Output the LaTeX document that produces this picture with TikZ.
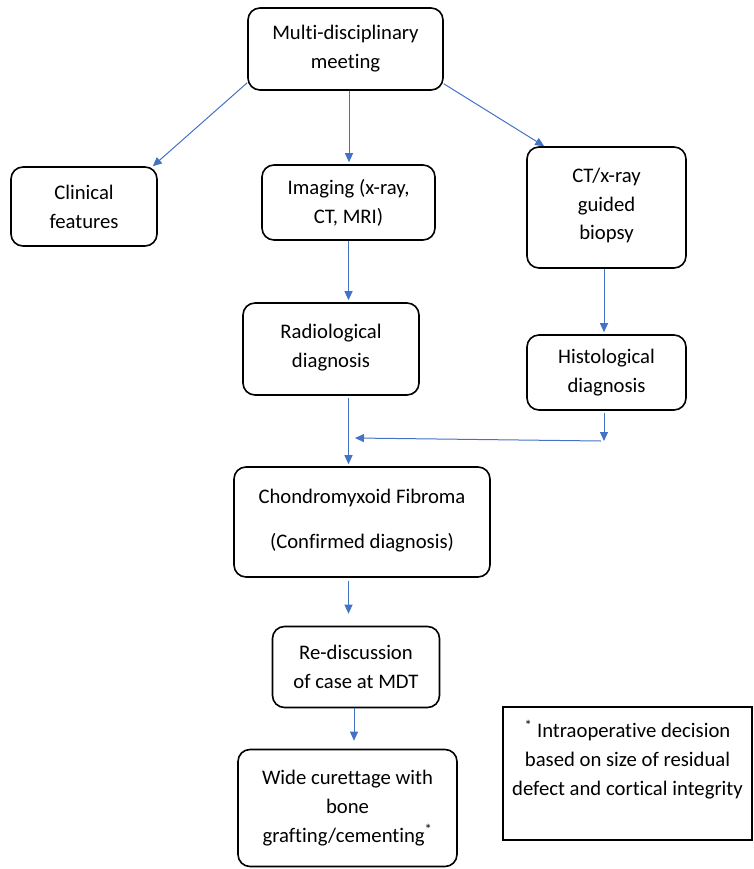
\documentclass[tikz,border=0pt]{standalone}
\usepackage{fontspec}
\setmainfont[Ligatures=NoCommon]{Carlito}
\usetikzlibrary{arrows.meta,calc}
\definecolor{arrblue}{HTML}{4472C4}
\tikzset{
  box/.style={draw=black, line width=1.6pt, rounded corners=12pt, align=center, inner sep=2pt,
    font=\fontsize{20.7}{29}\selectfont},
  arr/.style={draw=arrblue, line width=1pt, -{Triangle[length=9pt,width=8pt]}},
}
\begin{document}
\begin{tikzpicture}[x=1pt,y=-1pt]
\useasboundingbox (0,0) rectangle (753,869);
\node[box, minimum width=195pt, minimum height=82pt] (mdm) at (345.5,49) {Multi-disciplinary\\meeting};
\node[box, minimum width=146pt, minimum height=79pt] (clin) at (84,206.5) {Clinical\\features};
\node[box, minimum width=173pt, minimum height=75pt] (img) at (348.5,202.5) {Imaging (x-ray,\\CT, MRI)};
\node[box, minimum width=159pt, minimum height=121pt, font=\fontsize{20.7}{28.5}\selectfont] (ct) at (606.5,207.5) {CT/x-ray\\guided\\biopsy\\[-22pt]\mbox{}};
\node[box, minimum width=176pt, minimum height=92pt] (rad) at (331,349) {Radiological\\diagnosis\\[-22pt]\mbox{}};
\node[box, minimum width=159pt, minimum height=75pt] (hist) at (606.5,372.5) {Histological\\diagnosis};
\node[box, minimum width=256pt, minimum height=110pt] (cmf) at (362,522) {Chondromyxoid Fibroma\\[16pt](Confirmed diagnosis)\\[-22pt]\mbox{}};
\node[box, minimum width=167pt, minimum height=81pt] (red) at (356,667) {Re-discussion\\of case at MDT};
\node[box, minimum width=219pt, minimum height=117pt] (wide) at (347.5,808) {Wide curettage with\\bone\\grafting/cementing\textsuperscript{*}};
\node[box, rounded corners=0pt, minimum width=249pt, minimum height=133pt, font=\fontsize{20.7}{29}\selectfont] (note) at (627.5,773.5)
  {\textsuperscript{*} Intraoperative decision\\based on size of residual\\defect and cortical integrity\\[2pt]\mbox{}};
\coordinate (m1) at (604,441);
\coordinate (m2) at (355,438);
\draw[arr] ([yshift=8pt]mdm.south west) -- ([xshift=-5pt]clin.north east);
\draw[arr] ([xshift=3.5pt]mdm.south) -- ([xshift=3.5pt,yshift=2pt]mdm.south |- img.north);
\draw[arr] ([yshift=7pt]mdm.south east) -- ([xshift=18pt]ct.north west);
\draw[arr, shorten >=2pt] (img.south) -- (img.south |- rad.north);
\draw[arr, shorten >=2pt] ([xshift=-2.5pt]ct.south) -- ([xshift=-2.5pt]hist.north);
\draw[arr, shorten <=2pt, shorten >=2pt] (img.south |- rad.south) -- (img.south |- cmf.north);
\draw[arr, shorten <=2pt] ([xshift=-2.5pt]hist.south) -- (m1);
\draw[arr] ([xshift=-3pt]m1) -- (m2);
\draw[arr, shorten <=3pt, shorten >=12pt] (img.south |- cmf.south) -- (img.south |- red.north);
\draw[arr, shorten >=8pt] ([xshift=-2pt]red.south) -- ([xshift=-2pt]red.south |- wide.north);
\end{tikzpicture}
\end{document}
